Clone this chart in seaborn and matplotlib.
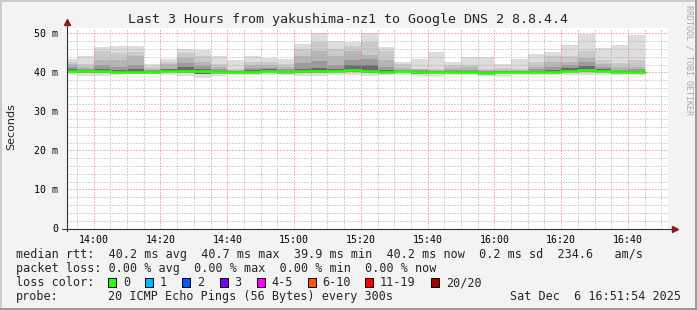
import numpy as np
import pandas as pd
import matplotlib
matplotlib.use("Agg")
import matplotlib.pyplot as plt
from matplotlib.ticker import MultipleLocator, FuncFormatter
from matplotlib.patches import Rectangle
from matplotlib.lines import Line2D
import seaborn as sns

# ---------------- data ----------------
bin_end = ["13:55", "14:00", "14:05", "14:10", "14:15", "14:20", "14:25", "14:30", "14:35", "14:40",
           "14:45", "14:50", "14:55", "15:00", "15:05", "15:10", "15:15", "15:20", "15:25", "15:30",
           "15:35", "15:40", "15:45", "15:50", "15:55", "16:00", "16:05", "16:10", "16:15", "16:20",
           "16:25", "16:30", "16:35", "16:40", "16:45"]

rtt_median = [40.4, 40.4, 40.4, 40.15, 40.15, 40.15, 40.4, 40.4, 40.4, 40.15, 40.15, 40.2,
              40.4, 40.15, 40.4, 40.4, 40.4, 40.65, 40.4, 40.15, 40.4, 40.15, 40.15, 40.15,
              40.15, 39.9, 40.15, 40.15, 40.15, 40.15, 40.4, 40.65, 40.4, 40.15, 40.15]
rtt_max = [43.5, 44.2, 46.5, 46.8, 46.8, 42.2, 43.5, 46.1, 45.8, 44.1, 43.2, 44.1,
           43.8, 43.5, 47.3, 50.1, 48.0, 47.7, 50.1, 46.5, 42.8, 43.4, 45.2, 42.6,
           44.0, 44.0, 42.1, 43.4, 44.7, 45.2, 47.0, 49.9, 46.2, 47.1, 49.7]
rtt_hi2 = [42.8, 42.1, 45.4, 45.0, 45.2, 41.5, 42.8, 45.0, 44.1, 42.1, 41.0, 42.8,
           42.8, 42.1, 46.1, 47.9, 46.1, 46.7, 47.9, 45.4, 42.1, 41.0, 41.0, 41.8,
           42.0, 41.0, 41.1, 41.0, 42.8, 44.1, 44.1, 45.4, 43.2, 42.4, 43.2]
rtt_hi3 = [42.1, 41.3, 43.2, 43.2, 44.1, 40.8, 42.1, 43.7, 42.8, 41.3, 40.7, 42.0,
           42.0, 41.3, 44.1, 45.6, 44.1, 45.4, 44.5, 43.2, 41.1, 40.8, 40.7, 41.1,
           41.3, 40.6, 40.7, 40.7, 41.5, 42.8, 42.8, 43.7, 42.1, 41.3, 41.5]
rtt_hi4 = [41.3, 40.9, 42.0, 41.3, 42.0, 40.6, 41.0, 42.4, 41.6, 40.8, 40.5, 41.2,
           41.2, 40.8, 42.4, 43.0, 42.0, 43.2, 43.5, 41.5, 40.7, 40.6, 40.5, 40.6,
           40.7, 40.3, 40.5, 40.5, 40.8, 41.5, 41.8, 42.6, 41.3, 40.7, 40.9]
rtt_core = [40.8, 40.7, 40.8, 40.6, 40.8, 40.4, 40.8, 41.4, 40.9, 40.5, 40.4, 40.7,
            40.8, 40.5, 41.0, 41.2, 40.9, 42.0, 42.0, 40.6, 40.6, 40.4, 40.4, 40.4,
            40.5, 40.2, 40.4, 40.4, 40.5, 40.6, 41.2, 41.6, 40.8, 40.5, 40.5]
rtt_low = [40.0, 39.9, 39.9, 39.9, 39.9, 39.9, 40.0, 39.8, 39.7, 39.9, 39.9, 39.9,
           40.0, 39.9, 39.9, 39.8, 40.0, 40.0, 39.9, 39.9, 40.0, 39.7, 39.9, 39.9,
           39.9, 39.6, 39.8, 39.9, 39.9, 39.9, 40.0, 40.1, 40.0, 39.9, 39.9]
rtt_min = [39.3, 39.2, 39.2, 39.4, 39.5, 39.5, 39.3, 39.1, 38.7, 39.2, 39.3, 39.3,
           39.4, 39.4, 39.2, 39.0, 39.3, 39.3, 39.2, 39.4, 39.3, 39.0, 39.2, 39.4,
           39.4, 39.2, 39.2, 39.3, 39.3, 39.3, 39.3, 39.4, 39.3, 39.3, 39.3]

x_tick_labels = ["14:00", "14:20", "14:40", "15:00", "15:20", "15:40", "16:00", "16:20", "16:40"]
y_tick_values = [0, 10, 20, 30, 40, 50]

title = "Last 3 Hours from yakushima-nz1 to Google DNS 2 8.8.4.4"
legend_rtt = "median rtt:  40.2 ms avg  40.7 ms max  39.9 ms min  40.2 ms now  0.2 ms sd  234.6   am/s"
legend_loss = "packet loss: 0.00 % avg  0.00 % max  0.00 % min  0.00 % now"
loss_labels = ["0", "1", "2", "3", "4-5", "6-10", "11-19", "20/20"]
loss_colors = ["#26ff00", "#00b8ff", "#0059ff", "#7e00ff", "#ff00ff", "#ff5500", "#ff0000", "#a10000"]
probe_text = "20 ICMP Echo Pings (56 Bytes) every 300s"
date_text = "Sat Dec  6 16:51:54 2025"

# ---------------- helpers ----------------
def to_min(s):
    h, m = s.split(":")
    return int(h) * 60 + int(m)

ends = np.array([to_min(s) for s in bin_end], dtype=float)
starts = ends - 5
xe = np.append(starts, ends[-1])

def ext(a):
    a = list(a)
    return np.array(a + [a[-1]])

W, H = 697, 310
MONO = "DejaVu Sans Mono"

sns.set_theme(style="white")
plt.rcParams["font.family"] = ["DejaVu Sans"]

fig = plt.figure(figsize=(W / 100, H / 100), dpi=100)
fig.patch.set_facecolor("#f3f3f3")

L, R, T, B = 67, 668, 28, 228.5
ax = fig.add_axes([L / W, 1 - B / H, (R - L) / W, (B - T) / H])
ax.set_facecolor("white")

# smoke bands
bands = [
    (rtt_min, rtt_max, "#dddddd"),
    (rtt_low, rtt_hi2, "#cacaca"),
    (rtt_low, rtt_hi3, "#b5b5b5"),
    (rtt_low, rtt_hi4, "#9a9a9a"),
    (rtt_low, rtt_core, "#6a6a6a"),
]
for lo, hi, c in bands:
    ax.fill_between(xe, ext(lo), ext(hi), step="post", color=c, lw=0, zorder=1)

ax.set_xlim(to_min("13:52"), to_min("16:52"))
ax.set_ylim(0, 51.4)

# grid
ax.xaxis.set_major_locator(MultipleLocator(20))
ax.xaxis.set_minor_locator(MultipleLocator(5))
ax.yaxis.set_major_locator(MultipleLocator(10))
ax.yaxis.set_minor_locator(MultipleLocator(2))
ax.grid(which="minor", color="#a8a8a8", lw=0.72, ls=(0, (1, 2)), zorder=2.5)
ax.grid(which="major", color="#ee7070", lw=0.72, ls=(0, (1, 2)), zorder=2.6)
ax.set_axisbelow(False)

# median line
df = pd.DataFrame({"t": xe, "median": ext(rtt_median)})
sns.lineplot(data=df, x="t", y="median", ax=ax, color="#26ff00", lw=1.9,
             drawstyle="steps-post", zorder=3, legend=False)

ax.set_yticks(y_tick_values)
ax.set_yticklabels(["0" if v == 0 else "%d m" % v for v in y_tick_values])
ax.set_xticks([to_min(s) for s in x_tick_labels])
ax.set_xticklabels(x_tick_labels)
ax.tick_params(axis="both", which="major", labelsize=7.1, length=3, width=0.7, color="#e07070",
               direction="inout")
ax.tick_params(axis="both", which="minor", length=2, width=0.7, color="#909090", direction="inout")
ax.tick_params(axis="x", which="major", pad=3)
ax.tick_params(axis="y", which="major", pad=5)
for lab in ax.get_xticklabels() + ax.get_yticklabels():
    lab.set_fontfamily(MONO)
    lab.set_color("#000000")
ax.set_xlabel("")
ax.set_ylabel("")

for s in ax.spines.values():
    s.set_visible(False)

# axis lines with arrows
ax.plot([-0.008, 1.012], [0, 0], transform=ax.transAxes, color="#333333", lw=0.8, clip_on=False, zorder=6)
ax.plot([0, 0], [-0.01, 1.03], transform=ax.transAxes, color="#333333", lw=0.8, clip_on=False, zorder=6)
ax.plot([1.012], [0], transform=ax.transAxes, marker=">", ms=4.5, color="#8b1a1a", clip_on=False, zorder=7)
ax.plot([0], [1.03], transform=ax.transAxes, marker="^", ms=4.5, color="#8b1a1a", clip_on=False, zorder=7)

def fx(px):
    return px / W

def fy(py):
    return 1 - py / H

# title & labels
fig.text(fx(348.5), fy(19), title, ha="center", va="center", fontsize=9.6, family=MONO)
fig.text(fx(11), fy(127), "Seconds", ha="center", va="center", rotation=90, fontsize=8)
fig.text(fx(689), fy(60), "RRDTOOL / TOBI OETIKER", ha="center", va="center", rotation=270,
         fontsize=6, family=MONO, color="#a8a8a8")

# legend rows
fs = 8.5
fig.text(fx(16), fy(254.5), legend_rtt, ha="left", va="center", fontsize=fs, family=MONO)
fig.text(fx(16), fy(268.5), legend_loss, ha="left", va="center", fontsize=fs, family=MONO)
fig.text(fx(16), fy(282.5), "loss color:", ha="left", va="center", fontsize=fs, family=MONO)
box_x = [108, 145, 182, 220, 257, 307.5, 365, 431]
lab_x = [123, 160, 197, 234, 271, 322, 380, 446]
for bx, lx, lab, col in zip(box_x, lab_x, loss_labels, loss_colors):
    fig.add_artist(Rectangle((fx(bx), fy(286.5)), 8 / W, 9 / H, transform=fig.transFigure,
                             facecolor=col, edgecolor="black", lw=0.7))
    fig.text(fx(lx), fy(282.5), lab, ha="left", va="center", fontsize=fs, family=MONO)
fig.text(fx(16), fy(296.5), "probe:", ha="left", va="center", fontsize=fs, family=MONO)
fig.text(fx(107.5), fy(296.5), probe_text, ha="left", va="center", fontsize=fs, family=MONO)
fig.text(fx(681), fy(296.5), date_text, ha="right", va="center", fontsize=fs, family=MONO)

# 3D frame
fig.add_artist(Line2D([0, 1], [fy(0.5), fy(0.5)], transform=fig.transFigure, color="#cbcbcb", lw=1.4))
fig.add_artist(Line2D([fx(0.5), fx(0.5)], [0, 1], transform=fig.transFigure, color="#cbcbcb", lw=1.4))
fig.add_artist(Line2D([0, 1], [fy(309), fy(309)], transform=fig.transFigure, color="#999999", lw=1.4))
fig.add_artist(Line2D([fx(696), fx(696)], [0, 1], transform=fig.transFigure, color="#999999", lw=1.4))

fig.savefig("out.png", dpi=100, facecolor=fig.get_facecolor())
